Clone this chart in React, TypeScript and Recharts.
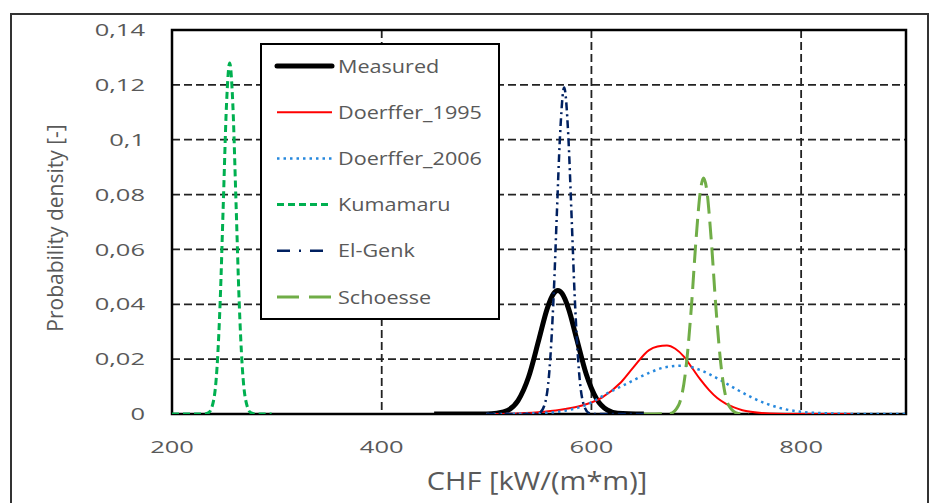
import { LineChart, Line, XAxis, YAxis, CartesianGrid, ReferenceArea, Legend } from 'recharts';

// CHF values in kW/(m*m)
const measuredX = [450, 480, 500, 510, 520, 530, 540, 550, 558, 564, 568, 572, 578, 586, 595, 605, 615, 625, 650];
const measuredY = [0, 0, 0, 0.0003, 0.0013, 0.0049, 0.0134, 0.0273, 0.0386, 0.0439, 0.045, 0.0439, 0.0386, 0.0273, 0.0146, 0.0055, 0.0015, 0.0003, 0];

const doerffer1995X = [500, 530, 555, 575, 590, 610, 628, 640, 655, 663, 672, 680, 688, 696, 704, 712, 720, 728, 736, 744, 752, 770, 800, 850];
const doerffer1995Y = [0, 0.0002, 0.0008, 0.0018, 0.003, 0.006, 0.0115, 0.017, 0.0233, 0.0246, 0.025, 0.0238, 0.021, 0.0168, 0.0125, 0.0088, 0.0058, 0.0038, 0.0024, 0.0014, 0.0008, 0.0002, 0, 0];

const doerffer2006X = [500, 530, 555, 575, 595, 615, 635, 655, 670, 687, 704, 720, 736, 752, 768, 784, 800, 830, 860, 900];
const doerffer2006Y = [0, 0.0001, 0.0004, 0.0012, 0.0033, 0.0075, 0.0113, 0.015, 0.017, 0.0176, 0.016, 0.013, 0.0095, 0.0062, 0.0036, 0.0018, 0.0008, 0.0002, 0, 0];

const kumamaruX = [200, 230, 235, 240, 243, 246, 249, 252, 255, 258, 261, 264, 267, 270, 275, 280, 295];
const kumamaruY = [0, 0, 0.0005, 0.0056, 0.0173, 0.0416, 0.0777, 0.113, 0.128, 0.113, 0.0777, 0.0416, 0.0173, 0.0056, 0.0005, 0, 0];

const elGenkX = [500, 545, 550, 555, 560, 564, 567, 570, 574, 578, 581, 584, 588, 593, 598, 603, 650];
const elGenkY = [0, 0, 0.0003, 0.003, 0.0162, 0.0433, 0.0728, 0.101, 0.119, 0.101, 0.0728, 0.0433, 0.0162, 0.003, 0.0003, 0, 0];

const schoesseX = [650, 675, 683, 690, 695, 700, 704, 707, 710, 714, 719, 724, 731, 740, 750];
const schoesseY = [0, 0.0002, 0.0031, 0.0162, 0.0374, 0.0648, 0.0816, 0.086, 0.0816, 0.0648, 0.0374, 0.0162, 0.0031, 0.0002, 0];

const xTicks = [200, 400, 600, 800];
const yTicks = [0, 0.02, 0.04, 0.06, 0.08, 0.1, 0.12, 0.14];

const zip = (xs: number[], ys: number[]) => xs.map((x, i) => ({ x, y: ys[i] }));

const series = [
  { name: 'Measured', data: zip(measuredX, measuredY), color: '#000000', width: 5, dash: undefined, legendDash: undefined },
  { name: 'Doerffer_1995', data: zip(doerffer1995X, doerffer1995Y), color: '#FF0000', width: 2, dash: undefined, legendDash: undefined },
  { name: 'Doerffer_2006', data: zip(doerffer2006X, doerffer2006Y), color: '#2688DD', width: 2.5, dash: '2.5 4', legendDash: '2.5 4' },
  { name: 'Kumamaru', data: zip(kumamaruX, kumamaruY), color: '#00B050', width: 3, dash: '7 4', legendDash: '7 4' },
  { name: 'El-Genk', data: zip(elGenkX, elGenkY), color: '#002060', width: 2.5, dash: '8 4 2 4', legendDash: '13 9 2 9' },
  { name: 'Schoesse', data: zip(schoesseX, schoesseY), color: '#70AD47', width: 3, dash: '18 8', legendDash: '22 10' },
];

const FONT = '"Open Sans", sans-serif';
const GREY = '#595959';

const fmtY = (v: number) => (v === 0 ? '0' : String(v).replace('.', ','));

const YTick = (p: any) => (
  <text transform={`translate(${p.x},${p.y}) scale(1.5,1)`} textAnchor="end" dy="0.36em" fill={GREY} fontSize={17} fontFamily={FONT}>
    {fmtY(p.payload.value)}
  </text>
);

const XTick = (p: any) => (
  <text transform={`translate(${p.x},${p.y}) scale(1.5,1)`} textAnchor="middle" dy="0.71em" fill={GREY} fontSize={17} fontFamily={FONT}>
    {p.payload.value}
  </text>
);

const XTitle = (p: any) => {
  const vb = p.viewBox;
  return (
    <text transform={`translate(${vb.x + vb.width / 2 - 2},${vb.y + 76}) scale(1.16,1)`} textAnchor="middle" fill={GREY} fontSize={25} fontFamily={FONT}>
      CHF [kW/(m*m)]
    </text>
  );
};

const YTitle = (p: any) => {
  const vb = p.viewBox;
  return (
    <text transform={`translate(${vb.x - 49},${vb.y + vb.height / 2 + 6}) rotate(-90)`} textAnchor="middle" fill={GREY} fontSize={21} fontFamily={FONT}>
      Probability density [-]
    </text>
  );
};

const LegendBox = () => (
  <div style={{ width: 240, height: 277, border: '2px solid #000', background: '#fff', boxSizing: 'border-box' }}>
    <svg width={236} height={273}>
      {series.map((s, i) => {
        const cy = 21 + i * 46.2;
        return (
          <g key={s.name}>
            <line x1={15} x2={70} y1={cy} y2={cy} stroke={s.color} strokeWidth={s.width}
              strokeDasharray={s.legendDash} strokeLinecap={s.name === 'Measured' ? 'round' : 'butt'} />
            <text transform={`translate(76,${cy + 6.5}) scale(1.2,1)`} fill={GREY} fontSize={18} fontFamily={FONT}>
              {s.name}
            </text>
          </g>
        );
      })}
    </svg>
  </div>
);

export default function App() {
  return (
    <div style={{ position: 'absolute', left: 0, top: 0, width: 930, height: 503, background: '#fff', overflow: 'hidden' }}>
      <div style={{ position: 'absolute', left: 10, top: 13, width: 919, height: 490, border: '2px solid #333', borderBottom: 'none', boxSizing: 'border-box' }} />
      <LineChart width={930} height={503} margin={{ top: 30, right: 24, left: 112, bottom: 0 }} style={{ fontFamily: FONT }}>
        <CartesianGrid stroke="#222" strokeWidth={1.8} strokeDasharray="8 4" />
        <ReferenceArea x1={200} x2={900} y1={0} y2={0.14} fill="none" stroke="#000" strokeWidth={2.5} strokeOpacity={1} fillOpacity={0} ifOverflow="visible" />
        <XAxis dataKey="x" type="number" domain={[200, 900]} ticks={xTicks} height={89} axisLine={false} tickLine={false}
          tickSize={0} tickMargin={27} tick={<XTick />} label={{ content: <XTitle /> } as any} allowDataOverflow />
        <YAxis type="number" domain={[0, 0.14]} ticks={yTicks} width={60} axisLine={false} tickLine={false}
          tickSize={0} tickMargin={27} tick={<YTick />} label={{ content: <YTitle /> } as any} allowDataOverflow />
        <Legend layout="vertical" align="center" verticalAlign="middle" content={<LegendBox />}
          wrapperStyle={{ left: 260, top: 43, width: 240, height: 277 }} />
        {series.map((s) => (
          <Line key={s.name} data={s.data} dataKey="y" name={s.name} type="monotone" stroke={s.color} strokeWidth={s.width}
            strokeDasharray={s.dash} strokeLinejoin="round" dot={false} activeDot={false} isAnimationActive={false} />
        ))}
      </LineChart>
    </div>
  );
}
